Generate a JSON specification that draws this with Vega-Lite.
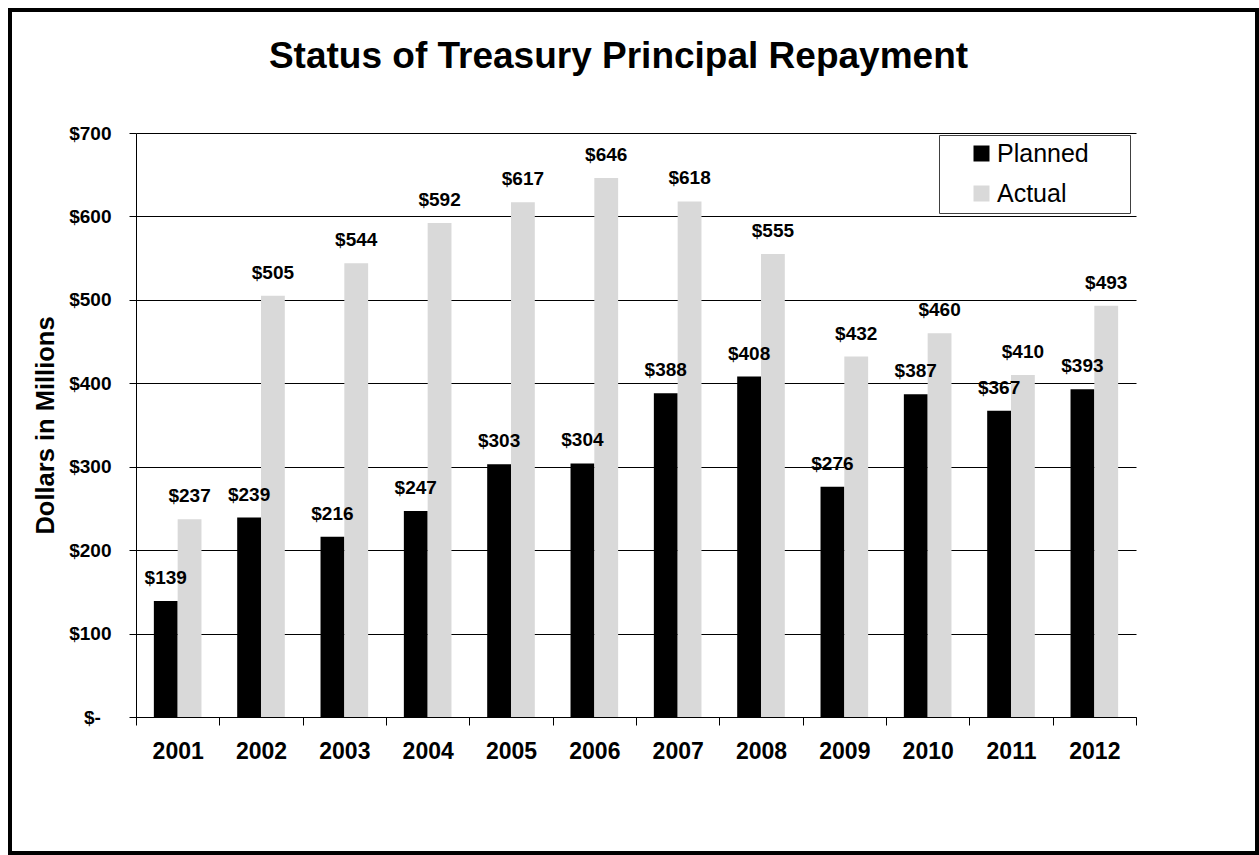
{
  "$schema": "https://vega.github.io/schema/vega-lite/v6.json",
  "width": 1247,
  "height": 843,
  "autosize": {"type": "none"},
  "padding": {"left": 10, "top": 10, "right": 2, "bottom": 2},
  "title": {
    "text": "Status of Treasury Principal Repayment",
    "fontSize": 37,
    "font": "Liberation Sans",
    "fontWeight": "bold",
    "color": "#000000",
    "anchor": "middle",
    "frame": "group",
    "offset": -66,
    "dx": -15
  },
  "data": {
    "values": [
      {"year": "2001", "series": "Planned", "value": 139},
      {"year": "2001", "series": "Actual", "value": 237},
      {"year": "2002", "series": "Planned", "value": 239},
      {"year": "2002", "series": "Actual", "value": 505},
      {"year": "2003", "series": "Planned", "value": 216},
      {"year": "2003", "series": "Actual", "value": 544},
      {"year": "2004", "series": "Planned", "value": 247},
      {"year": "2004", "series": "Actual", "value": 592},
      {"year": "2005", "series": "Planned", "value": 303},
      {"year": "2005", "series": "Actual", "value": 617},
      {"year": "2006", "series": "Planned", "value": 304},
      {"year": "2006", "series": "Actual", "value": 646},
      {"year": "2007", "series": "Planned", "value": 388},
      {"year": "2007", "series": "Actual", "value": 618},
      {"year": "2008", "series": "Planned", "value": 408},
      {"year": "2008", "series": "Actual", "value": 555},
      {"year": "2009", "series": "Planned", "value": 276},
      {"year": "2009", "series": "Actual", "value": 432},
      {"year": "2010", "series": "Planned", "value": 387},
      {"year": "2010", "series": "Actual", "value": 460},
      {"year": "2011", "series": "Planned", "value": 367},
      {"year": "2011", "series": "Actual", "value": 410},
      {"year": "2012", "series": "Planned", "value": 393},
      {"year": "2012", "series": "Actual", "value": 493}
    ]
  },
  "encoding": {
    "x": {
      "field": "year",
      "type": "ordinal",
      "scale": {"range": [126, 1126], "paddingInner": 0, "paddingOuter": 0},
      "axis": {
        "orient": "bottom",
        "offset": -136,
        "title": null,
        "grid": false,
        "tickBand": "extent",
        "tickSize": 8,
        "tickColor": "#000000",
        "domainColor": "#000000",
        "labelAngle": 0,
        "labelFont": "Liberation Sans",
        "labelFontSize": 23,
        "labelFontWeight": "bold",
        "labelColor": "#000000",
        "labelPadding": 15
      }
    },
    "xOffset": {
      "field": "series",
      "type": "nominal",
      "scale": {"domain": ["Planned", "Actual"], "paddingInner": 0, "paddingOuter": 0.75}
    },
    "y": {
      "field": "value",
      "type": "quantitative",
      "scale": {"domain": [0, 700], "range": [707, 123], "nice": false, "zero": true},
      "axis": {
        "orient": "left",
        "offset": -126,
        "values": [0, 100, 200, 300, 400, 500, 600, 700],
        "grid": true,
        "gridColor": "#000000",
        "gridWidth": 1,
        "gridOpacity": 1,
        "tickSize": 7,
        "tickColor": "#000000",
        "domainColor": "#000000",
        "labelFont": "Liberation Sans",
        "labelFontSize": 19,
        "labelFontWeight": "bold",
        "labelColor": "#000000",
        "labelPadding": 18,
        "labelExpr": "datum.value == 0 ? '$-\u00a0\u00a0\u200b' : '$' + datum.value",
        "title": "Dollars in Millions",
        "titleFont": "Liberation Sans",
        "titleFontSize": 25.5,
        "titleFontWeight": "bold",
        "titleColor": "#000000",
        "titlePadding": 10
      }
    }
  },
  "layer": [
    {
      "mark": {"type": "bar"},
      "encoding": {
        "color": {
          "field": "series",
          "type": "nominal",
          "scale": {"domain": ["Planned", "Actual"], "range": ["#000000", "#D9D9D9"]},
          "legend": {
            "orient": "none",
            "legendX": 929,
            "legendY": 125,
            "title": null,
            "symbolType": "square",
            "symbolSize": 256,
            "symbolStrokeWidth": 0,
            "labelFont": "Liberation Sans",
            "labelFontSize": 25,
            "labelColor": "#000000",
            "strokeColor": "#404040",
            "fillColor": "#FFFFFF",
            "padding": 6,
            "rowPadding": 14,
            "symbolOffset": 24,
            "labelOffset": 3,
            "labelExpr": "datum.label + '\u00a0\u00a0\u00a0\u00a0\u00a0\u200b'"
          }
        }
      }
    },
    {
      "mark": {
        "type": "text",
        "baseline": "alphabetic",
        "dy": -17,
        "font": "Liberation Sans",
        "fontSize": 19,
        "fontWeight": "bold",
        "color": "#000000"
      },
      "encoding": {
        "text": {"field": "value", "type": "quantitative", "format": "$d"}
      }
    }
  ],
  "config": {
    "font": "Liberation Sans",
    "background": "#FFFFFF",
    "view": {"stroke": "#000000", "strokeWidth": 4}
  }
}
